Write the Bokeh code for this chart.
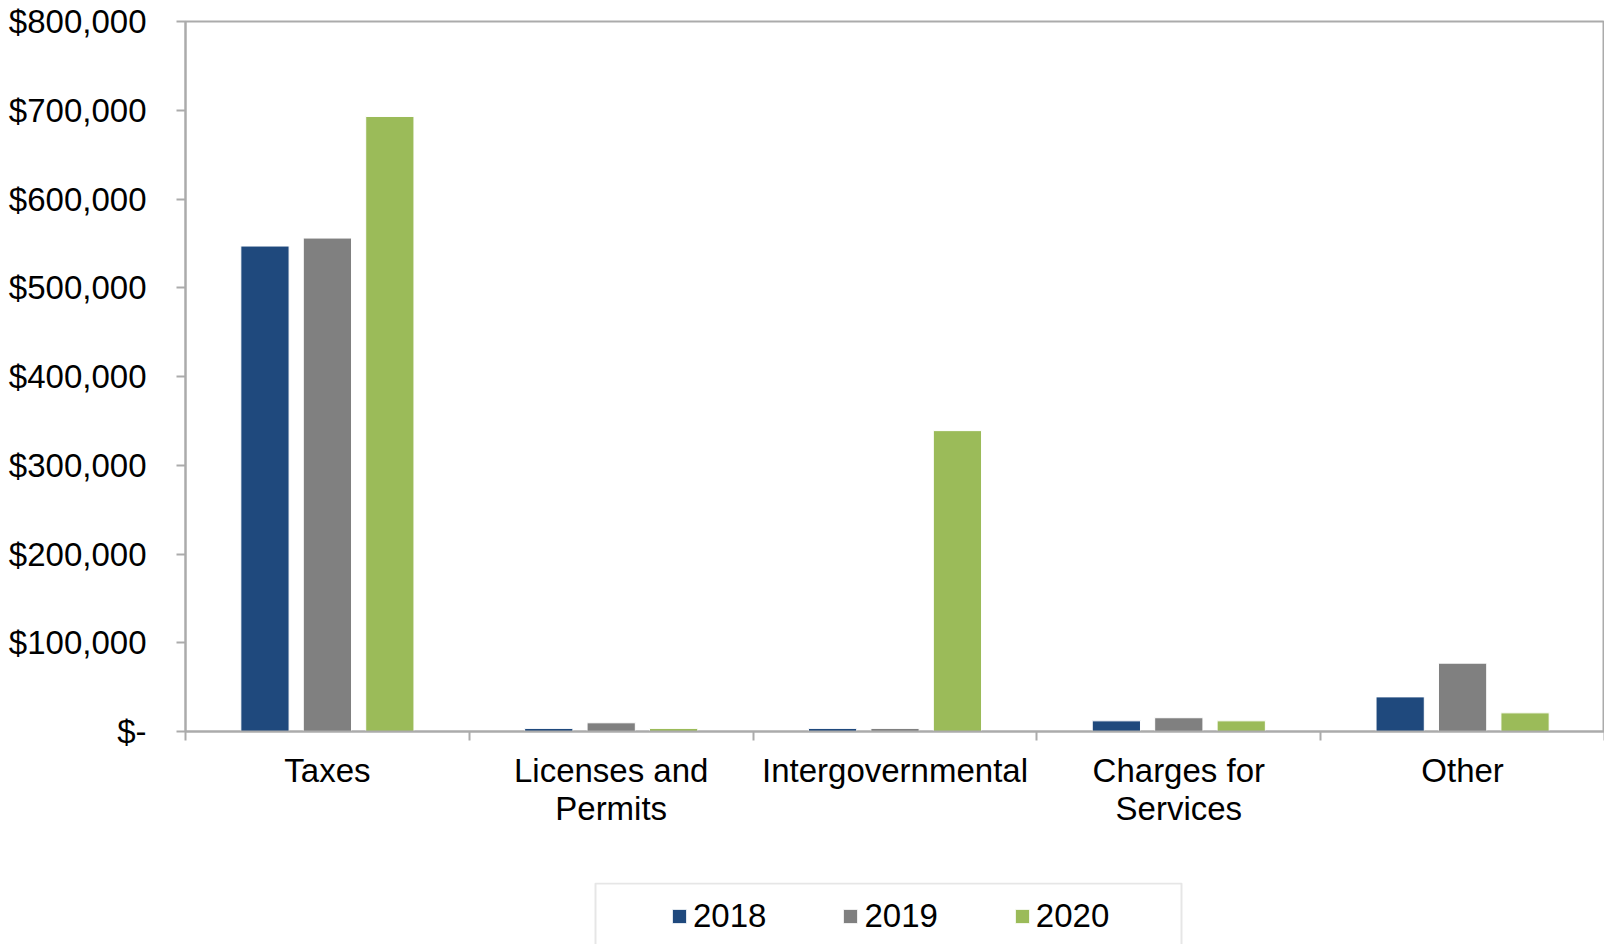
from bokeh.plotting import figure
from bokeh.models import (ColumnDataSource, Range1d, FixedTicker,
                          Legend, LegendItem, BoxAnnotation)
from bokeh.layouts import column
from bokeh.transform import dodge
from bokeh.embed import file_html
from bokeh.resources import INLINE

# ---- data ----
categories = ["Taxes", "Licenses and\nPermits", "Intergovernmental",
              "Charges for\nServices", "Other"]
years = ["2018", "2019", "2020"]
v2018 = [547000, 3500, 3500, 12000, 39000]
v2019 = [556000, 9800, 3500, 15500, 77000]
v2020 = [693000, 3500, 339000, 12000, 21000]
y_ticks = [0, 100000, 200000, 300000, 400000, 500000, 600000, 700000, 800000]
colors = ["#1F497D", "#808080", "#9BBB59"]

FONT = "Liberation Sans"
AXIS_GRAY = "#ABABAB"
FS = "33px"

pos = [i + 1 for i in range(len(categories))]
bounds = [i + 0.5 for i in range(len(categories) + 1)]
src = ColumnDataSource(dict(x=pos, v2018=v2018, v2019=v2019, v2020=v2020))
keys = ["v2018", "v2019", "v2020"]
offsets = [-0.22, 0.0, 0.22]

# ---------------- main chart ----------------
p = figure(width=1604, height=882, output_backend="svg", toolbar_location=None,
           x_range=Range1d(0.5, len(categories) + 0.5),
           y_range=Range1d(0, 800000),
           min_border_left=185, min_border_right=0, min_border_top=21,
           min_border_bottom=151)
p.grid.visible = False
p.outline_line_color = AXIS_GRAY
p.outline_line_width = 2
p.background_fill_color = "white"
p.border_fill_color = "white"

for k, off, c in zip(keys, offsets, colors):
    p.vbar(x=dodge("x", off), top=k, width=0.17, source=src,
           fill_color=c, line_color="white", line_width=1)

# x axis: labels at category centres, tick marks at category boundaries
xa = p.xaxis[0]
xa.ticker = FixedTicker(ticks=pos, minor_ticks=bounds)
xa.major_label_overrides = {p_: c for p_, c in zip(pos, categories)}
xa.major_label_text_font = FONT
xa.major_label_text_font_size = FS
xa.major_label_text_color = "black"
xa.major_label_text_line_height = 1.03
xa.major_label_standoff = 11
xa.major_tick_out = 9
xa.major_tick_in = 0
xa.major_tick_line_color = None
xa.minor_tick_out = 9
xa.minor_tick_in = 0
xa.minor_tick_line_color = AXIS_GRAY
xa.minor_tick_line_width = 2
xa.axis_line_color = AXIS_GRAY
xa.axis_line_width = 2

# y axis
ya = p.yaxis[0]
ya.ticker = FixedTicker(ticks=y_ticks)
ya.major_label_overrides = {t: ("$-" if t == 0 else f"${t:,}") for t in y_ticks}
ya.major_label_text_font = FONT
ya.major_label_text_font_size = FS
ya.major_label_text_color = "black"
ya.major_label_standoff = 30
ya.major_tick_out = 9
ya.major_tick_in = 0
ya.minor_tick_line_color = None
ya.axis_line_color = AXIS_GRAY
ya.axis_line_width = 2
ya.major_tick_line_color = AXIS_GRAY
ya.major_tick_line_width = 2

# ---------------- legend strip (same frame columns as the chart) ----------------
lg = figure(width=1604, height=62, output_backend="svg", toolbar_location=None,
            x_range=Range1d(0, 1419), y_range=Range1d(0, 62),
            x_axis_type=None, y_axis_type=None,
            min_border_left=185, min_border_right=0,
            min_border_top=0, min_border_bottom=0)
lg.grid.visible = False
lg.outline_line_color = None
lg.background_fill_color = "white"
lg.border_fill_color = "white"

# legend frame; its bottom edge lies below the picture, as in the reference
lg.add_layout(BoxAnnotation(left=410, right=996, top=61, bottom=-30,
                            fill_alpha=0.0, line_color=AXIS_GRAY, line_width=2))

leg_r = []
for k, c in zip(keys, colors):
    r = lg.vbar(x="x", top=k, width=0.17, source=src, fill_color=c,
                line_color="white", line_width=1, visible=False)
    leg_r.append(r)

legend = Legend(items=[LegendItem(label=y, renderers=[r]) for y, r in zip(years, leg_r)],
                orientation="horizontal", location=(485, 9),
                padding=0, margin=0, spacing=75, label_standoff=5,
                glyph_width=18, glyph_height=18,
                border_line_color=None, background_fill_alpha=0,
                inactive_fill_alpha=0,
                label_text_font=FONT, label_text_font_size=FS,
                label_text_color="black")
lg.add_layout(legend, "center")

layout = column(p, lg, spacing=0)
open("out.html", "w").write(file_html(layout, INLINE))
